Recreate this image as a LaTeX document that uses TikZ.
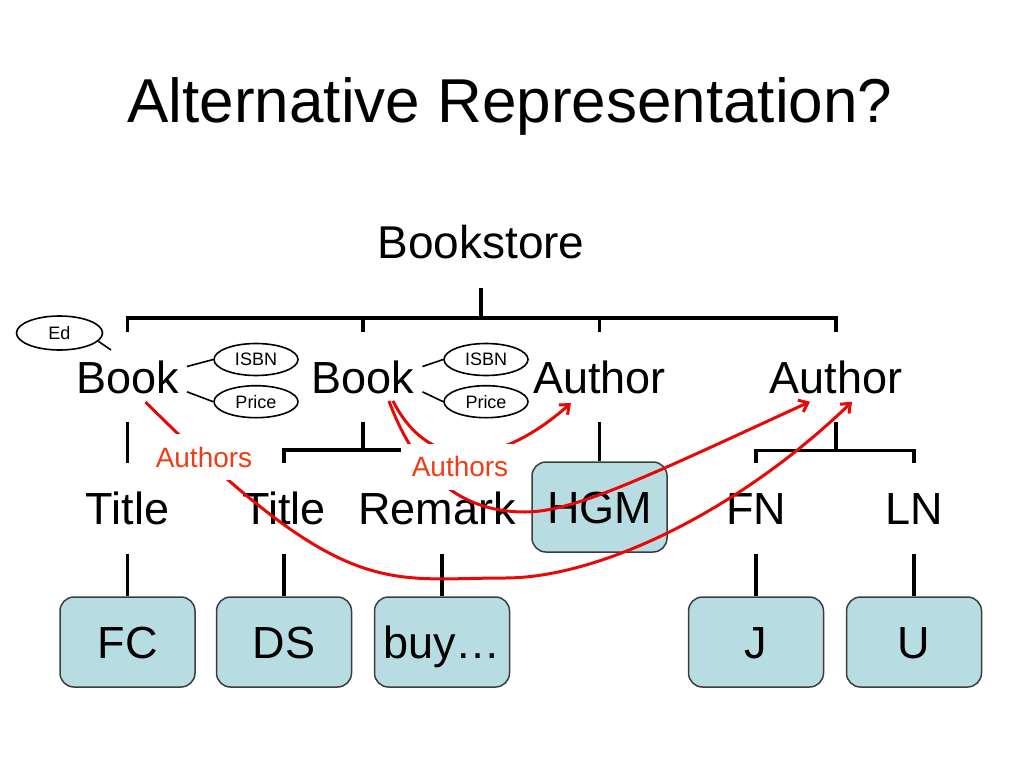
\documentclass[tikz,border=0pt]{standalone}
\usepackage{fontspec}
\setmainfont{Liberation Sans}
\usetikzlibrary{arrows.meta,shapes.geometric}
\definecolor{boxfill}{RGB}{183,221,227}
\definecolor{boxline}{RGB}{60,60,60}
\definecolor{linkred}{RGB}{232,8,8}
\definecolor{labelred}{RGB}{240,60,20}
\tikzset{
  word/.style={font=\fontsize{45}{54}\selectfont, text height=32pt, text depth=0pt, inner xsep=8pt, inner ysep=29pt},
  leaf/.style={word, draw=boxline, fill=boxfill, line width=1.5pt, rounded corners=14pt, minimum width=135pt, minimum height=90pt, inner sep=0pt},
  attr/.style={ellipse, draw, line width=1.6pt, inner sep=0pt, font=\fontsize{18}{20}\selectfont, minimum width=84pt, minimum height=32pt},
  attrline/.style={line width=1.6pt},
  tree/.style={line width=3.4pt},
  link/.style={draw=linkred, line width=3pt, -{Straight Barb[length=8pt,width=13pt]}},
  tag/.style={fill=white, text=labelred, font=\fontsize{28}{32}\selectfont, minimum width=118pt, minimum height=46pt, inner sep=0pt}
}
\begin{document}
\begin{tikzpicture}[x=1pt,y=-1pt] % pixel coordinates, y down
      \useasboundingbox (0,0) rectangle (1024,768);
      % Heading
      \node[font=\fontsize{62}{70}\selectfont, anchor=base] (head) at (510,122) {Alternative Representation?};
      % Root
      \node[word, font=\fontsize{46}{54}\selectfont] (store) at (481,242.5) {Bookstore};
      \coordinate (bar) at (481,318);
      % First level
      \node[word] (book1) at (127.5,377) {Book};
      \node[word] (book2) at (363,377) {Book};
      \node[word] (author1) at (599.5,377) {Author};
      \node[word] (author2) at (836,377) {Author};
      % Attributes
      \node[attr, minimum width=86pt, minimum height=34pt] (ed) at (59.5,333) {Ed};
      \node[attr] (isbn1) at (256,359.5) {ISBN};
      \node[attr] (price1) at (256,401.7) {Price};
      \node[attr] (isbn2) at (486,359.5) {ISBN};
      \node[attr] (price2) at (486,401.7) {Price};
      \coordinate (edtip) at (111,350);
      % Second level
      \node[word] (title1) at (127.5,508.5) {Title};
      \node[word] (title2) at (284,508.5) {Title};
      \node[word] (remark) at (437,508.5) {Remark};
      \node[leaf] (hgm) at (599.5,507) {HGM};
      \node[word] (fn) at (756,508.5) {FN};
      \node[word] (ln) at (914,508.5) {LN};
      \coordinate (bar2) at (363,450);
      \coordinate (bar3) at (836,450.7);
      % Bottom row
      \node[leaf] (fc) at (127.5,642) {FC};
      \node[leaf] (ds) at (284,642) {DS};
      \node[leaf] (buy) at (442,642) {buy…};
      \node[leaf] (j) at (756,642) {J};
      \node[leaf] (u) at (914,642) {U};
      % Tree lines
      \draw[tree] (store) -- (bar);
      \draw[tree] (book1.north) -- (book1 |- bar) -- (author2 |- bar) -- (author2.north);
      \draw[tree] (book2 |- bar) -- (book2.north);
      \draw[tree] (author1 |- bar) -- (author1.north);
      \draw[tree] (book1) -- (title1);
      \draw[tree] (book2) -- (bar2);
      \draw[tree] (title2.north) -- (title2 |- bar2) -- (buy |- bar2) -- (buy |- remark.north);
      \draw[tree] (author1) -- (hgm);
      \draw[tree] (author2) -- (bar3);
      \draw[tree] (fn.north) -- (fn |- bar3) -- (ln |- bar3) -- (ln.north);
      \draw[tree] (title1) -- (fc);
      \draw[tree] (title2) -- (ds);
      \draw[tree] (buy |- remark.south) -- (buy);
      \draw[tree] (fn) -- (j);
      \draw[tree] (ln) -- (u);
      % Attribute lines
      \draw[attrline] (ed.-12) -- (edtip);
      \draw[attrline] (book1.10) -- (isbn1.west);
      \draw[attrline] (book1.-14) -- (price1.west);
      \draw[attrline] (book2.10) -- (isbn2.west);
      \draw[attrline] (book2.-14) -- (price2.west);
      % Authors references
      \coordinate (b1out) at ([shift={(18,25)}]book1.center);
      \coordinate (b2outa) at ([shift={(26,24)}]book2.center);
      \coordinate (b2outb) at ([shift={(30,24)}]book2.center);
      \coordinate (a1in) at ([shift={(-28.5,26)}]author1.center);
      \coordinate (a2ina) at ([shift={(-26,24.7)}]author2.center);
      \coordinate (a2inb) at ([shift={(16,24.7)}]author2.center);
      \draw[link] (b1out) .. controls (346,602) and (385,578) .. (505,578)
        .. controls (600,578) and (740,510) .. (a2inb);
      \draw[link] (b2outa) .. controls (420,485) and (470,512) .. (525,512)
        .. controls (575,512) and (650,475) .. (a2ina);
      \draw[link] (b2outb) .. controls (428,470) and (495,470) .. (a1in);
      \node[tag] (authors1) at (204,457) {Authors};
      \node[tag] (authors2) at (460,466.5) {Authors};
    \end{tikzpicture}
\end{document}
